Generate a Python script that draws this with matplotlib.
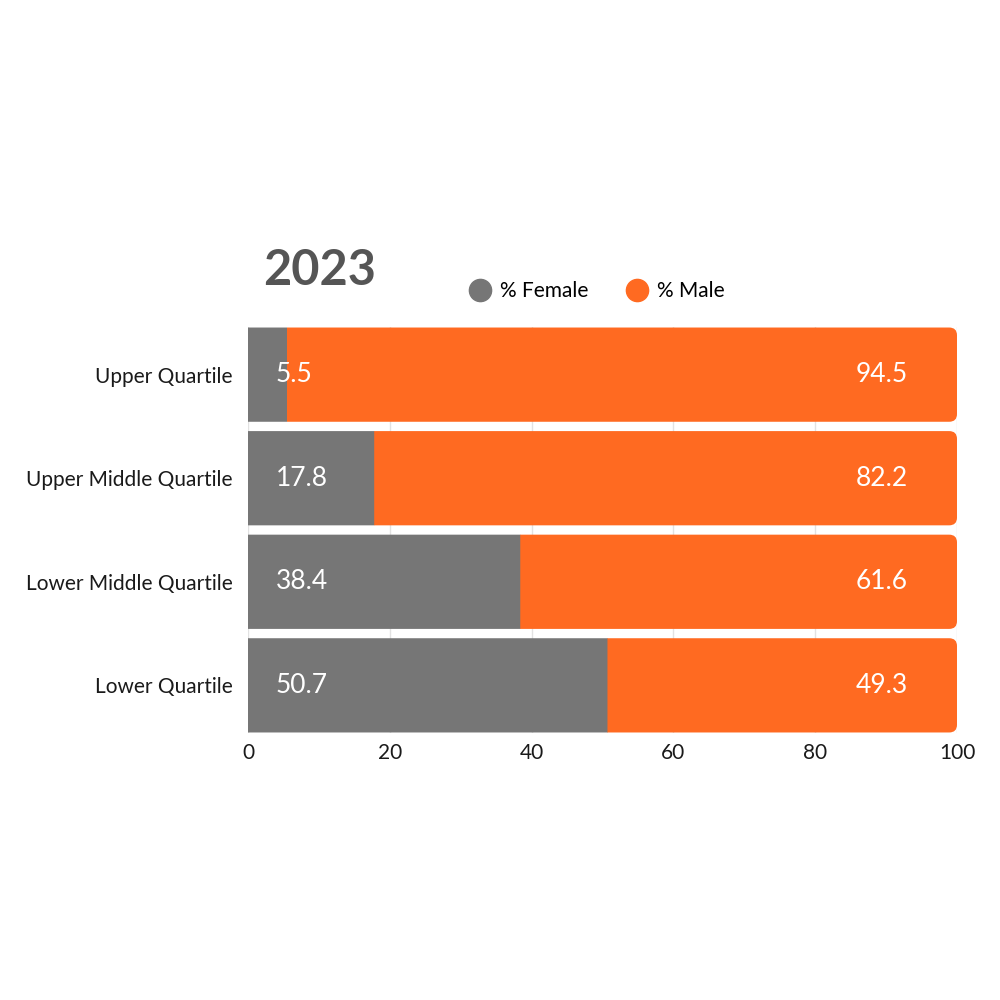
import matplotlib.pyplot as plt
from matplotlib.patches import FancyBboxPatch, Rectangle
from matplotlib.lines import Line2D

plt.rcParams["font.family"] = ["Lato", "DejaVu Sans"]

categories = ["Upper Quartile", "Upper Middle Quartile", "Lower Middle Quartile", "Lower Quartile"]
female = [5.5, 17.8, 38.4, 50.7]
male = [94.5, 82.2, 61.6, 49.3]

GREY = "#767676"
ORANGE = "#FF6A21"

fig = plt.figure(figsize=(10, 10), dpi=100)
ax = fig.add_axes([0.248, 0.267, 0.709, 0.406])

ypos = list(range(len(categories)))
h = 0.91
fbars = ax.barh(ypos, female, height=h, color=GREY, zorder=3)
mbars = ax.barh(ypos, male, left=female, height=h, color=ORANGE, zorder=2)
for b in fbars:
    b.set_snap(False)

ax.set_xlim(0, 100)
ax.set_ylim(len(categories) - 1 + 0.46, -0.46)

# round the right end of the male bars; the left end is clipped square
r = 1.1
aspect = (0.406 * 1000 / 3.92) ** -1 / (0.709 * 1000 / 100) ** -1
for b in mbars:
    x, y, w, hh = b.get_x(), b.get_y(), b.get_width(), b.get_height()
    b.set_visible(False)
    p = FancyBboxPatch((x - 3 * r, y), w + 3 * r, hh,
                       boxstyle=f"round,pad=0,rounding_size={r}",
                       mutation_aspect=aspect, fc=ORANGE, ec="none", zorder=2)
    ax.add_patch(p)
    clip = Rectangle((x, y - 0.2), w + 5, hh + 0.4, transform=ax.transData)
    p.set_clip_path(clip)

for i in ypos:
    ax.text(3.9, i, f"{female[i]}", color="white", fontsize=19, va="center", ha="left", zorder=4)
    ax.text(93.1, i, f"{male[i]}", color="white", fontsize=19, va="center", ha="right", zorder=4)

ax.set_yticks(ypos)
ax.set_yticklabels(categories)
ax.set_xticks([0, 20, 40, 60, 80, 100])
ax.tick_params(axis="both", length=0, labelsize=15, labelcolor="#1a1a1a")
ax.tick_params(axis="y", pad=11)
ax.tick_params(axis="x", pad=7)
ax.grid(axis="x", color="#e2e2e2", linewidth=1, zorder=0)
for s in ax.spines.values():
    s.set_visible(False)

fig.text(0.263, 0.715, "2023", fontsize=35, fontweight="bold", color="#555555", ha="left", va="baseline")

handles = [Line2D([], [], marker="o", linestyle="", markersize=16, color=GREY, label="% Female"),
           Line2D([], [], marker="o", linestyle="", markersize=16, color=ORANGE, label="% Male")]
fig.legend(handles=handles, loc="center", bbox_to_anchor=(0.596, 0.709), ncol=2, frameon=False,
           fontsize=15, handletextpad=0.36, columnspacing=1.77, handlelength=1.2)

fig.savefig("out.png", dpi=100)
